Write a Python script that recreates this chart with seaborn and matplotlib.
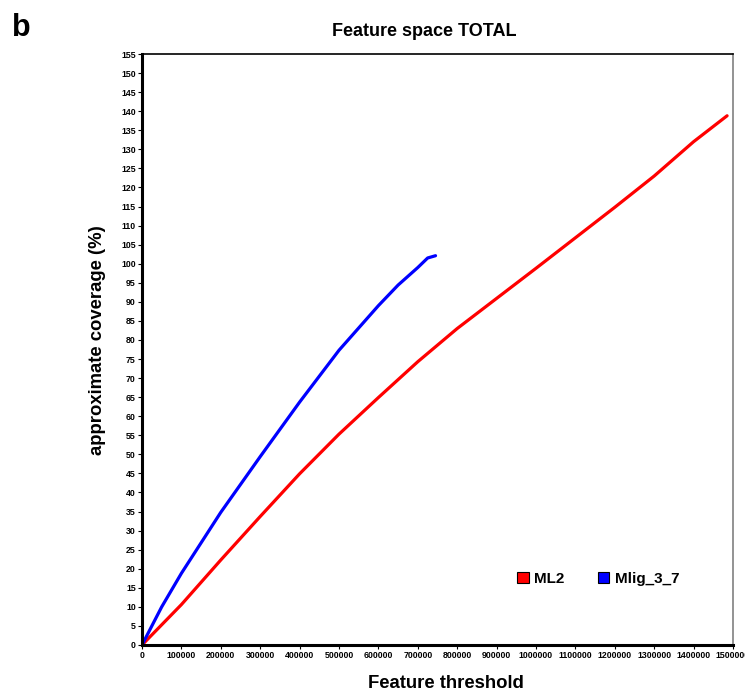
import pandas as pd
import matplotlib.pyplot as plt
from matplotlib.patches import Patch
from matplotlib.ticker import FuncFormatter
import seaborn as sns
import numpy as np

# values
ml2_x = [0, 100000, 200000, 300000, 400000, 500000, 600000, 700000, 800000, 900000,
         1000000, 1100000, 1200000, 1300000, 1400000, 1450000, 1485000]
ml2_y = [0, 10.6, 22.3, 33.7, 44.9, 55.3, 64.9, 74.3, 83.0, 90.9,
         98.8, 106.8, 114.8, 123.0, 132.0, 136.0, 138.8]

mlig_x = [0, 50000, 100000, 200000, 300000, 400000, 500000, 600000, 650000,
          700000, 725000, 745000]
mlig_y = [0, 10.0, 18.8, 34.8, 49.4, 63.7, 77.3, 89.0, 94.4, 99.0, 101.5, 102.1]

series_names = ["ML2", "Mlig_3_7"]
series_colors = ["#ff0000", "#0000ff"]

df = pd.concat([
    pd.DataFrame({"threshold": ml2_x, "coverage": ml2_y, "set": "ML2"}),
    pd.DataFrame({"threshold": mlig_x, "coverage": mlig_y, "set": "Mlig_3_7"}),
])

sns.set_style("white")
plt.rcParams["font.family"] = ["Liberation Sans", "DejaVu Sans"]
plt.rcParams["text.color"] = "black"
plt.rcParams["xtick.color"] = "black"
plt.rcParams["ytick.color"] = "black"

fig = plt.figure(figsize=(7.45, 6.93), dpi=100)
ax = fig.add_axes([142 / 745, 1 - 645 / 693, 591 / 745, 591 / 693])

sns.lineplot(data=df, x="threshold", y="coverage", hue="set", palette=series_colors,
             hue_order=series_names, linewidth=2.3, sort=False, estimator=None,
             legend=False, ax=ax)

ax.set_xlim(0, 1500000)
ax.set_ylim(0, 155)
ax.set_xticks(np.arange(0, 1500001, 100000))
ax.set_yticks(np.arange(0, 156, 5))
ax.xaxis.set_major_formatter(FuncFormatter(lambda v, p: "%d" % v))
ax.tick_params(axis="both", which="major", labelsize=6.3, length=3, width=0.8,
               direction="out", pad=1.5, left=True, bottom=True,
               color="black", labelcolor="black")
for lab in ax.get_xticklabels() + ax.get_yticklabels():
    lab.set_fontweight("bold")

ax.spines["left"].set_linewidth(2.2)
ax.spines["left"].set_color("black")
ax.spines["bottom"].set_linewidth(2.2)
ax.spines["bottom"].set_color("black")
ax.spines["top"].set_linewidth(1.2)
ax.spines["top"].set_color("black")
ax.spines["right"].set_linewidth(1.2)
ax.spines["right"].set_color("#808080")

ax.set_xlabel("")
ax.set_ylabel("")
fig.text(446 / 745, 1 - 684 / 693, "Feature threshold", ha="center", va="center",
         fontsize=13.3, fontweight="bold", color="black")
fig.text(98 / 745, 1 - 340 / 693, "approximate coverage (%)", ha="center", va="center",
         rotation=90, fontsize=13.3, fontweight="bold", color="black")
fig.text(424 / 745, 1 - 32 / 693, "Feature space TOTAL", ha="center", va="center",
         fontsize=13, fontweight="bold", color="black")
fig.text(12 / 745, 1 - 28 / 693, "b", ha="left", va="center",
         fontsize=22, fontweight="bold", color="black")

handles = [Patch(facecolor=c, edgecolor="black", linewidth=0.8) for c in series_colors]
leg = ax.legend(handles, series_names, loc="center", bbox_to_anchor=(0.772, 0.112),
                ncol=2, frameon=False, handlelength=0.75, handleheight=0.75,
                handletextpad=0.35, columnspacing=2.2,
                prop={"weight": "bold", "size": 11})
for t in leg.get_texts():
    t.set_color("black")

fig.savefig("out.png", dpi=100)
plt.close()
